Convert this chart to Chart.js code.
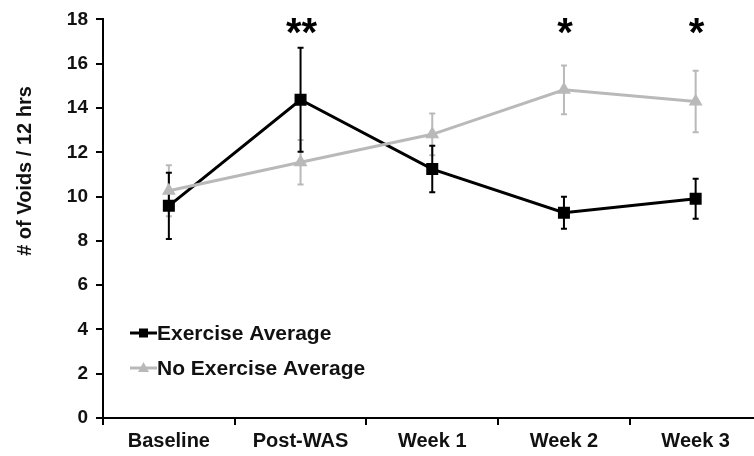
<!DOCTYPE html>
<html>
<head>
<meta charset="utf-8">
<script src="https://cdn.jsdelivr.net/npm/chart.js@4/dist/chart.umd.min.js"></script>
<style>
  html, body { margin: 0; padding: 0; background: #fff; overflow: hidden; }
  #wrap { width: 754px; height: 456px; overflow: hidden; position: relative; }
  canvas { display: block; }
</style>
</head>
<body>
<div id="wrap"><canvas id="chart" width="770" height="456"></canvas></div>
<script>
// Voiding frequency over the study period, mean ± error per group
const categories = ['Baseline', 'Post-WAS', 'Week 1', 'Week 2', 'Week 3'];
const exerciseMean = [9.58, 14.37, 11.24, 9.27, 9.9];
const exerciseErr = [1.5, 2.35, 1.05, 0.72, 0.9];
const noExerciseMean = [10.26, 11.55, 12.81, 14.82, 14.29];
const noExerciseErr = [1.15, 1.0, 0.94, 1.1, 1.39];
const significance = ['', '**', '', '*', '*'];
const seriesNames = ['Exercise Average', 'No Exercise Average'];
const yTitle = '# of Voids / 12 hrs';

const FONT = "'Liberation Sans', Arial, sans-serif";
const BLACK = '#000000';
const GRAY = '#b9b9b9';

// vertical error bars with small caps, drawn under the markers
const errorBars = {
  id: 'errorBars',
  beforeDatasetsDraw(chart) {
    const { ctx, scales: { x, y } } = chart;
    const sets = [
      { mean: noExerciseMean, err: noExerciseErr, color: GRAY },
      { mean: exerciseMean, err: exerciseErr, color: BLACK }
    ];
    ctx.save();
    sets.forEach(s => {
      ctx.strokeStyle = s.color;
      ctx.lineWidth = 2;
      s.mean.forEach((m, i) => {
        const px = x.getPixelForValue(i);
        const top = y.getPixelForValue(m + s.err[i]);
        const bot = y.getPixelForValue(m - s.err[i]);
        ctx.beginPath();
        ctx.moveTo(px, top); ctx.lineTo(px, bot);
        ctx.moveTo(px - 3, top); ctx.lineTo(px + 3, top);
        ctx.moveTo(px - 3, bot); ctx.lineTo(px + 3, bot);
        ctx.stroke();
      });
    });
    ctx.restore();
  }
};

// significance asterisks above the categories
const stars = {
  id: 'stars',
  afterDatasetsDraw(chart) {
    const { ctx, scales: { x } } = chart;
    ctx.save();
    ctx.fillStyle = BLACK;
    ctx.font = `bold 40px ${FONT}`;
    ctx.textAlign = 'center';
    ctx.textBaseline = 'top';
    significance.forEach((s, i) => {
      if (s) ctx.fillText(s, x.getPixelForValue(i) + 1, 15);
    });
    ctx.restore();
  }
};

// rotated y-axis title, sitting in the upper half of the axis
const axisTitle = {
  id: 'axisTitle',
  afterDraw(chart) {
    const { ctx } = chart;
    ctx.save();
    ctx.translate(25, 171);
    ctx.rotate(-Math.PI / 2);
    ctx.fillStyle = '#111';
    ctx.font = `bold 20px ${FONT}`;
    ctx.textAlign = 'center';
    ctx.textBaseline = 'middle';
    ctx.fillText(yTitle, 0, 0);
    ctx.restore();
  }
};

// legend placed inside the plot, lower left
const insideLegend = {
  id: 'insideLegend',
  afterDraw(chart) {
    const { ctx } = chart;
    const rows = [
      { label: seriesNames[0], color: BLACK, style: 'rect', y: 333 },
      { label: seriesNames[1], color: GRAY, style: 'triangle', y: 368 }
    ];
    ctx.save();
    rows.forEach(r => {
      ctx.strokeStyle = r.color;
      ctx.fillStyle = r.color;
      ctx.lineWidth = 3;
      ctx.beginPath();
      ctx.moveTo(130, r.y); ctx.lineTo(157, r.y);
      ctx.stroke();
      if (r.style === 'rect') {
        ctx.fillRect(139, r.y - 4.5, 9, 9);
      } else {
        ctx.beginPath();
        ctx.moveTo(143.5, r.y - 6);
        ctx.lineTo(149, r.y + 4);
        ctx.lineTo(138, r.y + 4);
        ctx.closePath();
        ctx.fill();
      }
      ctx.fillStyle = '#111';
      ctx.font = `bold 21px ${FONT}`;
      ctx.textAlign = 'left';
      ctx.textBaseline = 'middle';
      ctx.fillText(r.label, 157, r.y + 1);
    });
    ctx.restore();
  }
};

new Chart(document.getElementById('chart'), {
  type: 'line',
  data: {
    labels: categories,
    datasets: [
      {
        label: seriesNames[1],
        data: noExerciseMean,
        borderColor: GRAY,
        backgroundColor: GRAY,
        borderWidth: 3,
        pointStyle: 'triangle',
        pointRadius: 8,
        pointBorderWidth: 0,
        tension: 0
      },
      {
        label: seriesNames[0],
        data: exerciseMean,
        borderColor: BLACK,
        backgroundColor: BLACK,
        borderWidth: 3,
        pointStyle: 'rect',
        pointRadius: 8.5,
        pointBorderWidth: 0,
        tension: 0
      }
    ]
  },
  options: {
    responsive: false,
    animation: false,
    devicePixelRatio: 1,
    layout: { padding: { top: 15, right: 7, left: 0, bottom: 0 } },
    plugins: {
      legend: { display: false },
      tooltip: { enabled: false }
    },
    scales: {
      x: {
        offset: true,
        grid: { offset: true, drawOnChartArea: false, drawTicks: true, tickLength: 7, color: BLACK, lineWidth: 2 },
        border: { color: BLACK, width: 2 },
        ticks: { color: '#111', font: { family: FONT, size: 20, weight: 'bold' }, padding: 4, maxRotation: 0 },
        afterFit(scale) { scale.height = 38; }
      },
      y: {
        min: 0,
        max: 18,
        ticks: { stepSize: 2, color: '#111', font: { family: FONT, size: 19, weight: 'bold' }, padding: 8 },
        grid: { drawOnChartArea: false, drawTicks: true, tickLength: 7, color: BLACK, lineWidth: 2 },
        border: { color: BLACK, width: 2 },
        afterFit(scale) { scale.width = 103; }
      }
    }
  },
  plugins: [errorBars, stars, axisTitle, insideLegend]
});
</script>
</body>
</html>
